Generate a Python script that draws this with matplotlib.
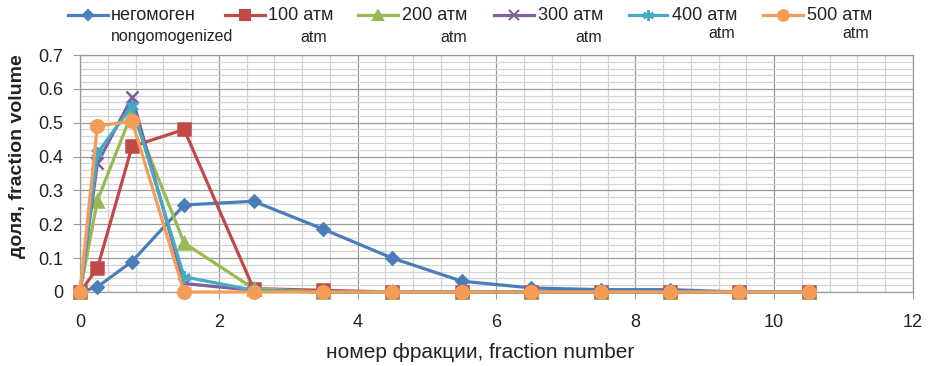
import matplotlib
matplotlib.use("Agg")
import matplotlib.pyplot as plt
from matplotlib.lines import Line2D
from matplotlib.ticker import MultipleLocator

x = [0, 0.25, 0.75, 1.5, 2.5, 3.5, 4.5, 5.5, 6.5, 7.5, 8.5, 9.5, 10.5]
neg = [0, 0.015, 0.09, 0.257, 0.268, 0.186, 0.10, 0.032, 0.012, 0.007, 0.007, 0, 0]
p100 = [0, 0.07, 0.43, 0.48, 0.01, 0.005, 0, 0, 0, 0, 0, 0, 0]
p200 = [0, 0.27, 0.53, 0.145, 0.01, 0, 0, 0, 0, 0, 0, 0, 0]
p300 = [0, 0.38, 0.575, 0.025, 0.005, 0, 0, 0, 0, 0, 0, 0, 0]
p400 = [0, 0.41, 0.55, 0.045, 0.005, 0, 0, 0, 0, 0, 0, 0, 0]
p500 = [0, 0.49, 0.505, 0, 0, 0, 0, 0, 0, 0, 0, 0, 0]

xticks = [0, 2, 4, 6, 8, 10, 12]
yticks = [0, 0.1, 0.2, 0.3, 0.4, 0.5, 0.6, 0.7]
ytick_labels = ['0', '0.1', '0.2', '0.3', '0.4', '0.5', '0.6', '0.7']

labels1 = ["негомоген", "100 атм", "200 атм", "300 атм", "400 атм", "500 атм"]
labels2 = ["nongomogenized", "atm", "atm", "atm", "atm", "atm"]
colors = ["#4A7EBB", "#BE4B48", "#98B954", "#7D60A0", "#46AAC5", "#F59D56"]
markers = ["D", "s", "^", "x", (6, 2, 0), "o"]
msizes = [6.5, 9, 8, 9, 9, 9]
series = [neg, p100, p200, p300, p400, p500]

plt.rcParams['font.family'] = ['Liberation Sans', 'DejaVu Sans']

fig = plt.figure(figsize=(9.39, 3.66), dpi=100)
W, H = 939, 366
ax = fig.add_axes([80 / W, 1 - 292 / H, (913 - 80) / W, (292 - 55) / H])

for ys, c, m, ms in zip(series, colors, markers, msizes):
    ax.plot(x, ys, color=c, lw=2.3, marker=m, ms=ms, mec=c, mfc=c, mew=1.8, zorder=3,
            clip_on=False)

ax.set_xlim(0, 12)
ax.set_ylim(0, 0.7)
ax.set_xticks(xticks)
ax.set_xticklabels([str(v) for v in xticks])
ax.set_yticks(yticks)
ax.set_yticklabels(ytick_labels)
ax.xaxis.set_minor_locator(MultipleLocator(0.4))
ax.yaxis.set_minor_locator(MultipleLocator(0.02))
ax.grid(which='minor', color='#D4D4D4', lw=0.9, zorder=0)
ax.grid(which='major', color='#9A9A9A', lw=0.9, zorder=0)
ax.set_axisbelow(True)
for s in ax.spines.values():
    s.set_color('#9A9A9A')
    s.set_linewidth(0.9)
ax.tick_params(which='minor', length=0)
ax.tick_params(which='major', length=5, color='#9A9A9A', labelsize=13, labelcolor='#222222', pad=7)
ax.tick_params(axis='x', which='major', pad=11)

fig.text(480 / W, 1 - 352 / H, "номер фракции, fraction number", ha='center', va='center', fontsize=15, color='#222222')
fig.text(18 / W, 1 - 156 / H, "доля, fraction volume", ha='center', va='center', rotation=90, fontsize=14, color='#222222', fontweight='semibold')

# manual legend
line_x = [(68, 108), (225, 265), (358, 398), (494, 534), (629, 667), (763, 803)]
text_x = [111, 268, 402, 538, 672, 807]
sub_x = [111, 300, 440, 575, 708, 842]
sub_y = [37, 37, 37, 37, 33, 33]
for i in range(6):
    x0, x1 = line_x[i]
    yl = 1 - 15 / H
    fig.add_artist(Line2D([x0 / W, x1 / W], [yl, yl], color=colors[i], lw=2.3,
                          transform=fig.transFigure))
    fig.add_artist(Line2D([(x0 + x1) / 2 / W], [yl], color=colors[i], marker=markers[i],
                          ms=msizes[i] * 0.85, mec=colors[i], mfc=colors[i], mew=1.5,
                          transform=fig.transFigure))
    fig.text(text_x[i] / W, yl, labels1[i], ha='left', va='center', fontsize=13, color='#222222')
    fig.text(sub_x[i] / W, 1 - sub_y[i] / H, labels2[i], ha='left', va='center', fontsize=11.5, color='#222222')

fig.savefig("out.png", dpi=100)
